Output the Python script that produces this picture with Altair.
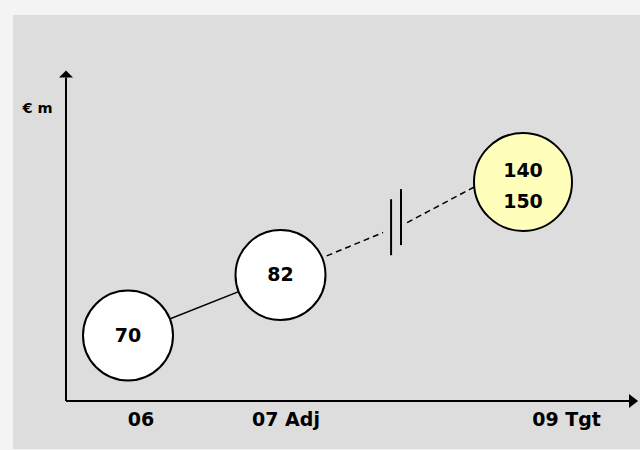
import altair as alt
import pandas as pd

# ---- data -------------------------------------------------------------
periods = ["06", "07 Adj", "09 Tgt"]
years = [2006, 2007, 2009]
low = [70, 82, 140]
high = [70, 82, 150]
kind = ["actual", "actual", "target"]

# ---- scale anchors (axis origin / axis end in data units) -------------
X_ORIGIN, X_END = 2005.5, 2009.6
Y_ORIGIN, Y_END = 0, 170

FONT = "DejaVu Sans"

# Broken (piecewise) scales: the axes are not to scale between periods.
x_scale = alt.Scale(domain=[X_ORIGIN, years[0], years[1], years[2], X_END],
                    range=[53, 115, 267.5, 510, 616], nice=False, zero=False)
y_scale = alt.Scale(domain=[Y_ORIGIN, 70, 82, 145, Y_END],
                    range=[386, 320.5, 260, 167, 62.5], nice=False, zero=False)


def X(field):
    return alt.X(field, type="quantitative", scale=x_scale, axis=None)


def Y(field):
    return alt.Y(field, type="quantitative", scale=y_scale, axis=None)


points = pd.DataFrame({
    "period": periods,
    "year": years,
    "low": low,
    "high": high,
    "kind": kind,
})
points["mid"] = (points["low"] + points["high"]) / 2
points["label"] = [
    f"{lo}" if lo == hi else f"{lo}\n{hi}" for lo, hi in zip(low, high)
]

# ---- axes with arrow heads -------------------------------------------
axes_df = pd.DataFrame({
    "x": [X_ORIGIN, X_ORIGIN],
    "y": [Y_ORIGIN, Y_ORIGIN],
    "x2": [X_END, X_ORIGIN],
    "y2": [Y_ORIGIN, Y_END],
})
axes = alt.Chart(axes_df).mark_rule(color="black", strokeWidth=2).encode(
    x=X("x"), y=Y("y"), x2="x2", y2="y2"
)

x_head = alt.Chart(pd.DataFrame({"x": [X_END], "y": [Y_ORIGIN]})).mark_point(
    shape="M1.3,0L0,-1L0,1Z", size=196, filled=True, color="black", opacity=1
).encode(x=X("x"), y=Y("y"))

y_head = alt.Chart(pd.DataFrame({"x": [X_ORIGIN], "y": [Y_END]})).mark_point(
    shape="M0,-1L1,0L-1,0Z", size=196, filled=True, color="black", opacity=1
).encode(x=X("x"), y=Y("y"))

unit_label = alt.Chart(pd.DataFrame({"x": [X_ORIGIN], "y": [Y_END], "t": ["€ m"]})).mark_text(
    font=FONT, fontSize=14.5, fontWeight="bold", color="black",
    align="center", baseline="middle", dx=-28.5, dy=31
).encode(x=X("x"), y=Y("y"), text="t:N")

# ---- connecting lines -------------------------------------------------
solid = alt.Chart(points[points["kind"] == "actual"]).mark_line(
    color="black", strokeWidth=1.5
).encode(x=X("year"), y=Y("mid"))


def along(t):
    """Point at fraction t of the way from the last actual to the target."""
    return (years[1] + t * (years[2] - years[1]),
            low[1] + t * (high[2] - low[1]))


gap_a, gap_b = along(0.423), along(0.522)
dash_df = pd.DataFrame({
    "x": [years[1], gap_b[0]],
    "y": [low[1], gap_b[1]],
    "x2": [gap_a[0], years[2]],
    "y2": [gap_a[1], high[2]],
})
dashed = alt.Chart(dash_df).mark_rule(
    color="black", strokeWidth=1.5, strokeDash=[6, 4]
).encode(x=X("x"), y=Y("y"), x2="x2", y2="y2")

# axis-break marks on the dashed connector
breaks = []
for t, lift in [(0.456, -2), (0.497, -8)]:
    bx, by = along(t)
    breaks.append(
        alt.Chart(pd.DataFrame({"x": [bx], "y": [by]})).mark_point(
            shape="M0,-1L0,1", size=3136, filled=False, color="black",
            strokeWidth=2, opacity=1, yOffset=lift
        ).encode(x=X("x"), y=Y("y"))
    )

# ---- bubbles and their values ----------------------------------------
bubbles = alt.Chart(points).mark_point(
    shape="circle", filled=True, stroke="black", strokeWidth=2, opacity=1
).encode(
    x=X("year"),
    y=Y("mid"),
    fill=alt.Fill("kind:N", scale=alt.Scale(domain=["actual", "target"],
                                            range=["#ffffff", "#ffffbb"]),
                  legend=None),
    size=alt.Size("kind:O", scale=alt.Scale(domain=["actual", "target"],
                                            range=[8100, 9604]),
                  legend=None),
)

value_style = dict(font=FONT, fontSize=19, fontWeight="bold", color="black",
                   align="center", baseline="middle", lineBreak="\n",
                   lineHeight=31)
# single values sit on the bubble centre; the target range is a two-line block
values_actual = alt.Chart(points[points["kind"] == "actual"]).mark_text(
    **value_style
).encode(x=X("year"), y=Y("mid"), text="label:N")
values_target = alt.Chart(points[points["kind"] == "target"]).mark_text(
    dy=-11.5, **value_style
).encode(x=X("year"), y=Y("mid"), text="label:N")

# ---- period labels under the x axis ----------------------------------
nudge = {"06": 13, "07 Adj": 5.5, "09 Tgt": 43.5}
period_labels = []
for p, yr in zip(periods, years):
    period_labels.append(
        alt.Chart(pd.DataFrame({"x": [yr], "y": [Y_ORIGIN], "t": [p]})).mark_text(
            font=FONT, fontSize=19, fontWeight="bold", color="black",
            align="center", baseline="alphabetic", dx=nudge[p], dy=25
        ).encode(x=X("x"), y=Y("y"), text="t:N")
    )

chart = alt.layer(
    axes, x_head, y_head, unit_label, solid, dashed, *breaks,
    bubbles, values_actual, values_target, *period_labels
).properties(
    width=627,
    height=434,
    padding={"left": 13, "top": 15, "right": 0, "bottom": 1},
    autosize="none",
    background="#f4f4f4",
).configure_view(fill="#dddddd", stroke=None)

chart.save("out.html", embed_options={"renderer": "svg", "actions": False})
